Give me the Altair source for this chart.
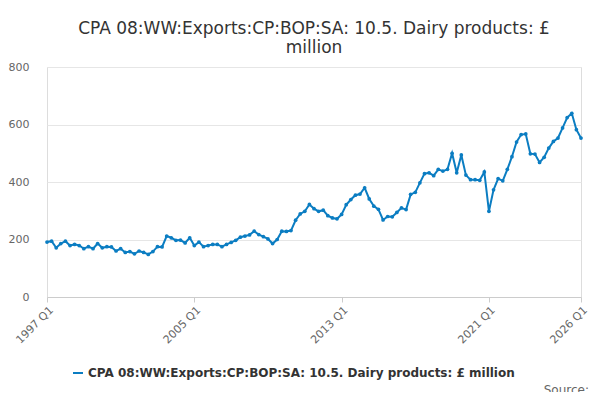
import pandas as pd
import altair as alt

series_name = "CPA 08:WW:Exports:CP:BOP:SA: 10.5. Dairy products: £ million"
values = [
    191, 194, 171, 186, 194, 179, 183, 179, 168, 175, 168, 186, 171, 175, 174, 160,
    168, 155, 158, 150, 160, 155, 148, 158, 175, 174, 212, 206, 197, 198, 188, 206,
    179, 191, 175, 179, 183, 183, 175, 183, 190, 197, 208, 212, 216, 229, 217, 210,
    202, 186, 200, 229, 228, 231, 267, 289, 298, 322, 307, 298, 302, 283, 275, 272,
    287, 321, 339, 354, 358, 380, 341, 316, 305, 268, 280, 279, 294, 310, 304, 357,
    364, 397, 429, 432, 422, 444, 438, 444, 500, 432, 494, 424, 408, 408, 406, 435,
    298, 373, 412, 404, 444, 488, 539, 565, 567, 498, 497, 468, 486, 518, 541, 553,
    588, 624, 639, 582, 553,
]
quarters = [f"{1997 + i // 4} Q{i % 4 + 1}" for i in range(len(values))]
tick_idx = [0, 32, 64, 96, 116]

df = pd.DataFrame({"idx": range(len(values)), "quarter": quarters, "value": values, "series": series_name})

label_map = "{" + ",".join(f"'{i}':'{quarters[i]}'" for i in tick_idx) + "}"

line = alt.Chart(df).mark_line(
    point=alt.OverlayMarkDef(size=14, filled=True), strokeWidth=2
).encode(
    x=alt.X("idx:Q", scale=alt.Scale(domain=[0, 116], nice=False),
            axis=alt.Axis(values=tick_idx, labelExpr=f"{label_map}[datum.value]", labelAngle=-45,
                          labelAlign="right", labelFontSize=11, labelColor="#666", grid=False,
                          domainColor="#ccc", tickColor="#ccc", title=None)),
    y=alt.Y("value:Q", scale=alt.Scale(domain=[0, 800]),
            axis=alt.Axis(values=[0, 200, 400, 600, 800], labelFontSize=11, labelColor="#666",
                          gridColor="#e6e6e6", domain=False, ticks=False, title=None, labelPadding=18)),
    color=alt.Color("series:N", scale=alt.Scale(range=["#0b7dc2"]),
                    legend=alt.Legend(title=None, orient="none", legendX=25, legendY=300,
                                      labelFontSize=12, labelFontWeight="bold", labelColor="#333",
                                      symbolType="stroke", symbolStrokeWidth=2, labelLimit=500)),
    tooltip=["quarter:N", "value:Q"],
)

source = alt.Chart(pd.DataFrame({"t": ["Source:"]})).mark_text(
    align="right", fontSize=12, color="#666"
).encode(text="t:N", x=alt.value(542), y=alt.value(323))

chart = (line + source).properties(
    width=534, height=230,
    title=alt.Title(["CPA 08:WW:Exports:CP:BOP:SA: 10.5. Dairy products: £", "million"],
                    fontSize=17, fontWeight="normal", color="#333", anchor="middle"),
    autosize=alt.AutoSizeParams(type="none"),
    padding={"left": 39, "top": 59, "right": 11, "bottom": 95},
).configure_view(stroke=None).configure(font="DejaVu Sans")

chart.save("out.html", embed_options={"renderer": "svg", "actions": False})
